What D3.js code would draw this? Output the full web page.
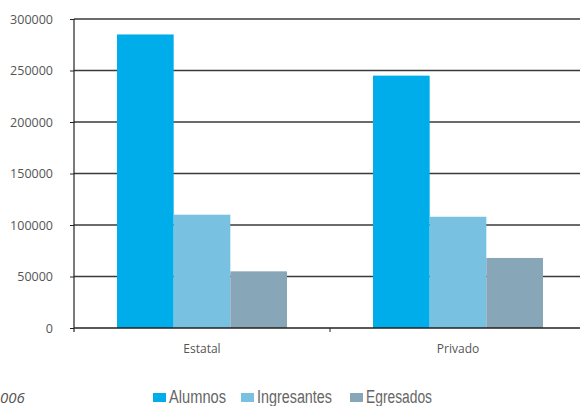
<!DOCTYPE html>
<html>
<head>
<meta charset="utf-8">
<script src="https://cdn.jsdelivr.net/npm/d3@7"></script>
<style>
  body { margin: 0; background: #fff; }
  svg { display: block; }
</style>
</head>
<body>
<svg id="chart" width="580" height="406"></svg>
<script>
(() => {
    const categories = ["Estatal", "Privado"];
    const series = ["Alumnos", "Ingresantes", "Egresados"];
    const alumnos = [285000, 245000];
    const ingresantes = [110000, 108000];
    const egresados = [55000, 68000];
    const yTicks = [0, 50000, 100000, 150000, 200000, 250000, 300000];
    const colors = ["#00adeb", "#79c1e0", "#87a7b8"];

    const values = [alumnos, ingresantes, egresados];
    const rows = categories.map((c, i) => ({ cat: c, vals: series.map((s, j) => ({ s, v: values[j][i] })) }));

    const svg = d3.select("#chart");
    const left = 74, right = 586, top = 19, bottom = 328;

    const x0 = d3.scaleBand().domain(categories).range([left, right]);
    const groupW = 170;
    const x1 = d3.scaleBand().domain(series).range([0, groupW]);
    const y = d3.scaleLinear().domain([0, 300000]).range([bottom, top]);
    const color = d3.scaleOrdinal().domain(series).range(colors);

    // gridlines
    svg.append("g").selectAll("line")
        .data(yTicks.filter(d => d > 0))
        .enter().append("line")
        .attr("x1", left).attr("x2", right)
        .attr("y1", d => y(d)).attr("y2", d => y(d))
        .attr("stroke", "#3a3a3a")
        .attr("stroke-width", 1.3);

    // bars
    const grp = svg.append("g").selectAll("g")
        .data(rows)
        .enter().append("g")
        .attr("transform", d => `translate(${x0(d.cat) + (x0.bandwidth() - groupW) / 2},0)`);

    grp.selectAll("rect")
        .data(d => d.vals)
        .enter().append("rect")
        .attr("x", d => x1(d.s))
        .attr("width", x1.bandwidth())
        .attr("y", d => y(d.v))
        .attr("height", d => bottom - y(d.v))
        .attr("fill", d => color(d.s));

    // y axis
    const yAxis = svg.append("g")
        .attr("transform", `translate(${left},0)`)
        .call(d3.axisLeft(y).tickValues(yTicks).tickSize(4).tickSizeOuter(0).tickPadding(17).tickFormat(d3.format("d")));
    yAxis.select(".domain").attr("stroke", "#222").attr("stroke-width", 1.2).attr("d", `M0,${top}V${bottom + 4}`);
    yAxis.selectAll(".tick line").attr("stroke", "#222");
    yAxis.selectAll("text")
        .attr("font-family", "Open Sans, sans-serif")
        .attr("font-size", "12.5px")
        .attr("fill", "#555");

    // x axis
    const xAxis = svg.append("g").attr("transform", `translate(0,${bottom})`);
    xAxis.append("line")
        .attr("x1", left).attr("x2", right)
        .attr("stroke", "#222").attr("stroke-width", 1.3);
    xAxis.selectAll("line.tk")
        .data(categories.slice(1))
        .enter().append("line")
        .attr("class", "tk")
        .attr("x1", d => x0(d)).attr("x2", d => x0(d))
        .attr("y1", 0).attr("y2", 4)
        .attr("stroke", "#222");
    xAxis.selectAll("text")
        .data(categories)
        .enter().append("text")
        .attr("x", d => x0(d) + x0.bandwidth() / 2)
        .attr("y", 25)
        .attr("text-anchor", "middle")
        .attr("font-family", "Open Sans, sans-serif")
        .attr("font-size", "12px")
        .attr("fill", "#555")
        .text(d => d);

    // source note (only its tail shows in the reference)
    svg.append("text")
        .attr("x", 0).attr("y", 403)
        .attr("font-family", "Open Sans, sans-serif")
        .attr("font-style", "italic")
        .attr("font-size", "15px")
        .attr("fill", "#555")
        .text("006");

    // legend
    const legX = [153, 241, 350];
    const legW = [57, 75, 66];
    const leg = svg.append("g").selectAll("g")
        .data(series)
        .enter().append("g")
        .attr("transform", (d, i) => `translate(${legX[i]},0)`);
    leg.append("rect")
        .attr("x", 0).attr("y", 393)
        .attr("width", 13).attr("height", 9)
        .attr("fill", d => color(d));
    leg.append("text")
        .attr("x", 16).attr("y", 403)
        .attr("font-family", "Liberation Sans, Arial, sans-serif")
        .attr("font-size", "18px")
        .attr("fill", "#666")
        .attr("textLength", (d, i) => legW[i])
        .attr("lengthAdjust", "spacingAndGlyphs")
        .text(d => d);
})();
</script>
</body>
</html>
